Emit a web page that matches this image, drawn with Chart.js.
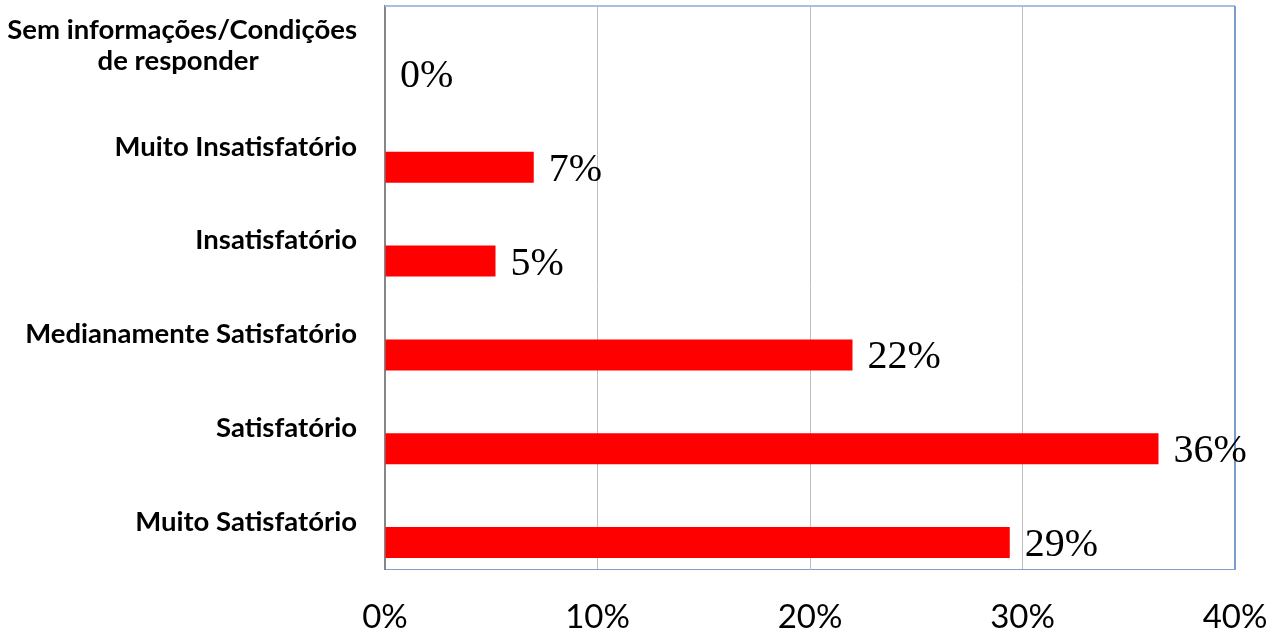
<!DOCTYPE html>
<html>
<head>
<meta charset="utf-8">
<script src="https://cdn.jsdelivr.net/npm/chart.js@4.4.1/dist/chart.umd.min.js"></script>
<style>
  body { margin: 0; background: #fff; }
</style>
</head>
<body>
<canvas id="myBarChart" width="1277" height="635"></canvas>
<script>
// categorias (de cima para baixo)
const categories = [
  ['Sem informações/Condições', 'de responder'],
  'Muito Insatisfatório',
  'Insatisfatório',
  'Medianamente Satisfatório',
  'Satisfatório',
  'Muito Satisfatório'
];
// percentuais
const values = [0, 7.0, 5.2, 22.0, 36.4, 29.4];
const valueLabels = ['0%', '7%', '5%', '22%', '36%', '29%'];
const xTicks = [0, 10, 20, 30, 40];

// desenha rótulos do eixo y e dos valores
const labelPlugin = {
  id: 'labelPlugin',
  afterDraw(chart) {
    const ctx = chart.ctx;
    const area = chart.chartArea;
    const yScale = chart.scales.y;

    // borda superior e direita da área do gráfico
    ctx.save();
    ctx.strokeStyle = '#A8C0DF';
    ctx.lineWidth = 2;
    ctx.beginPath();
    ctx.moveTo(area.left, area.top);
    ctx.lineTo(area.right, area.top);
    ctx.stroke();
    ctx.strokeStyle = '#7A9CCD';
    ctx.beginPath();
    ctx.moveTo(area.right, area.top);
    ctx.lineTo(area.right, area.bottom);
    ctx.stroke();

    // rótulos das categorias
    ctx.fillStyle = '#000';
    ctx.font = 'bold 27.5px Lato';
    ctx.textBaseline = 'middle';
    const right = area.left - 28;
    categories.forEach((c, i) => {
      const y = yScale.getPixelForValue(i);
      if (Array.isArray(c)) {
        const w1 = ctx.measureText(c[0]).width;
        ctx.textAlign = 'right';
        ctx.fillText(c[0], right, y - 23);
        ctx.textAlign = 'center';
        ctx.fillText(c[1], right - w1 / 2 - 4, y + 8);
      } else {
        ctx.textAlign = 'right';
        ctx.fillText(c, right, y);
      }
    });

    // rótulos dos valores
    const meta = chart.getDatasetMeta(1);
    ctx.font = '40px "Liberation Serif"';
    ctx.textAlign = 'left';
    meta.data.forEach((bar, i) => {
      ctx.fillText(valueLabels[i], bar.x + 15, bar.y + 3);
    });
    ctx.restore();
  }
};

const data1 = {
  labels: categories,
  datasets: [
    {
      label: '',
      data: categories.map(() => null),
      backgroundColor: 'rgba(0,0,0,0)'
    },
    {
      label: 'Percentual',
      data: values,
      backgroundColor: '#FF0000',
      borderWidth: 0
    }
  ]
};

const config = {
  type: 'bar',
  data: data1,
  plugins: [labelPlugin],
  options: {
    indexAxis: 'y',
    responsive: false,
    animation: false,
    devicePixelRatio: 1,
    categoryPercentage: 0.874,
    barPercentage: 0.756,
    layout: {
      padding: { left: 385, right: 42, top: 6, bottom: 0 }
    },
    plugins: {
      legend: { display: false },
      tooltip: { enabled: false }
    },
    scales: {
      x: {
        min: 0,
        max: 40,
        afterBuildTicks: (axis) => {
          axis.ticks = xTicks.map(v => ({ value: v }));
        },
        afterFit: (axis) => {
          axis.height = 66;
          axis.paddingLeft = 0;
          axis.paddingRight = 0;
        },
        ticks: {
          callback: (v) => v + '%',
          color: '#000',
          font: { family: 'Lato', size: 33 },
          padding: 29,
          maxRotation: 0
        },
        grid: {
          drawTicks: false,
          color: (c) => c.tick && c.tick.value === 40 ? '#7A9CCD' : '#C0C0C0',
          lineWidth: 1
        },
        border: { color: '#7F9FCF', width: 1 }
      },
      y: {
        afterFit: (axis) => { axis.width = 0; },
        ticks: { display: false },
        grid: { display: false, drawTicks: false },
        border: { color: '#868686', width: 2 }
      }
    }
  }
};

const ctx = document.getElementById('myBarChart').getContext('2d');
const myChart = new Chart(ctx, config);
</script>
</body>
</html>
